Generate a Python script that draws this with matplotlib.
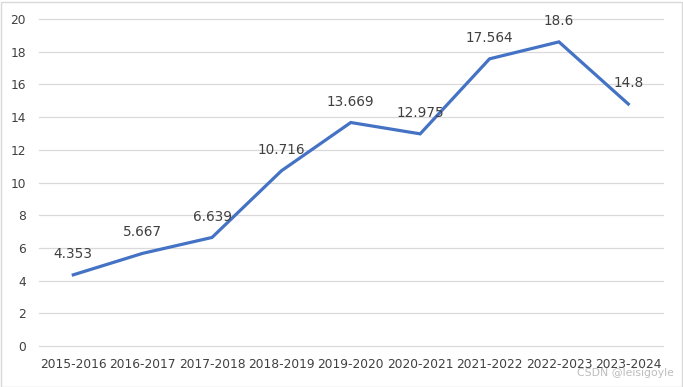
import matplotlib
matplotlib.use("Agg")
from matplotlib import pyplot as plt
from matplotlib.patches import Rectangle

# school years and values
years = ['2015-2016', '2016-2017', '2017-2018', '2018-2019', '2019-2020',
         '2020-2021', '2021-2022', '2022-2023', '2023-2024']
values = [4.353, 5.667, 6.639, 10.716, 13.669, 12.975, 17.564, 18.6, 14.8]
labels = ['4.353', '5.667', '6.639', '10.716', '13.669', '12.975', '17.564', '18.6', '14.8']

text_col = '#404040'

fig = plt.figure(figsize=(6.83, 3.87), dpi=100)
ax = fig.add_axes([38.6 / 683, 41 / 387, 624.4 / 683, 327 / 387])

x = list(range(len(years)))
ax.plot(x, values, color='#4472C4', linewidth=2.3, solid_joinstyle='miter')

# data labels above each point
for i, (v, s) in enumerate(zip(values, labels)):
    ax.annotate(s, (i, v), xytext=(0, 10), textcoords='offset points',
                ha='center', va='bottom', fontsize=9.8, color=text_col)

ax.set_xlim(-0.5, len(years) - 0.5)
ax.set_ylim(0, 20)
ax.set_yticks(range(0, 21, 2))
ax.set_xticks(x)
ax.set_xticklabels(years)
ax.tick_params(axis='both', length=0, labelsize=8.8, labelcolor=text_col)
ax.tick_params(axis='x', pad=9)
ax.tick_params(axis='y', pad=9)
ax.grid(axis='y', color='#d9d9d9', linewidth=0.9)
for gl in ax.get_ygridlines():
    gl.set_clip_on(False)
ax.set_axisbelow(True)
for sp in ax.spines.values():
    sp.set_visible(False)

# outer chart border
fig.patches.append(Rectangle((0.5 / 683, 0.5 / 387), 681 / 683, 385 / 387,
                             transform=fig.transFigure, fill=False,
                             edgecolor='#d9d9d9', linewidth=1))

# watermark
fig.text(674 / 683, 14 / 387, 'CSDN @leisigoyle', ha='right', va='center',
         fontsize=7.8, color='#bdbdbd')

fig.savefig('out.png', dpi=100)
